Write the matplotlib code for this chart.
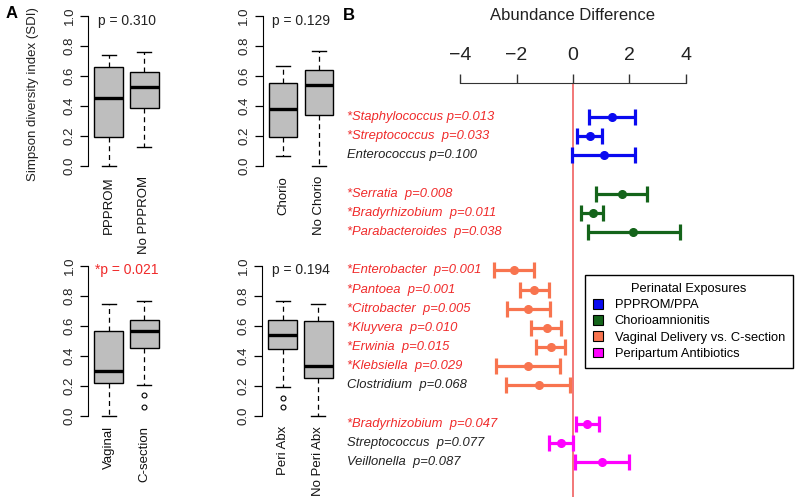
import matplotlib
matplotlib.use('Agg')
import matplotlib.pyplot as plt
from matplotlib.patches import Patch

plt.rcParams['font.family'] = ['Liberation Sans', 'DejaVu Sans']

# ---- panel A: Simpson diversity boxplots ----
box_names = [['PPPROM', 'No PPPROM'], ['Chorio', 'No Chorio'],
             ['Vaginal', 'C-section'], ['Peri Abx', 'No Peri Abx']]
box_pvals = ['p = 0.310', 'p = 0.129', '*p = 0.021', 'p = 0.194']
box_whislo = [[0.0, 0.129], [0.067, 0.0], [0.0, 0.204], [0.189, 0.0]]
box_q1 = [[0.196, 0.384], [0.191, 0.342], [0.216, 0.453], [0.444, 0.251]]
box_med = [[0.451, 0.524], [0.378, 0.542], [0.298, 0.564], [0.538, 0.329]]
box_q3 = [[0.662, 0.624], [0.556, 0.642], [0.564, 0.640], [0.636, 0.629]]
box_whishi = [[0.740, 0.762], [0.667, 0.767], [0.744, 0.767], [0.767, 0.744]]
box_fliers = [[[], []], [[], []], [[], [0.138, 0.058]], [[0.117, 0.060], []]]

# ---- panel B: abundance differences ----
groups = ['PPPROM/PPA', 'Chorioamnionitis', 'Vaginal Delivery vs. C-section',
          'Peripartum Antibiotics']
group_colors = ['#0a0af0', '#14641a', '#f8744f', '#ff00ff']
taxa = ['*Staphylococcus p=0.013', '*Streptococcus  p=0.033', 'Enterococcus p=0.100',
        '*Serratia  p=0.008', '*Bradyrhizobium  p=0.011', '*Parabacteroides  p=0.038',
        '*Enterobacter  p=0.001', '*Pantoea  p=0.001', '*Citrobacter  p=0.005',
        '*Kluyvera  p=0.010', '*Erwinia  p=0.015', '*Klebsiella  p=0.029',
        'Clostridium  p=0.068',
        '*Bradyrhizobium  p=0.047', 'Streptococcus  p=0.077', 'Veillonella  p=0.087']
taxon_group = [0, 0, 0, 1, 1, 1, 2, 2, 2, 2, 2, 2, 2, 3, 3, 3]
diff_mean = [1.39, 0.60, 1.10, 1.73, 0.70, 2.14, -2.09, -1.37, -1.58, -0.93, -0.79,
             -1.58, -1.22, 0.51, -0.44, 1.04]
diff_lo = [0.58, 0.15, -0.02, 0.82, 0.30, 0.52, -2.79, -1.88, -2.35, -1.50, -1.31,
           -2.74, -2.38, 0.12, -0.86, 0.06]
diff_hi = [2.19, 1.02, 2.20, 2.64, 1.08, 3.79, -1.39, -0.85, -0.82, -0.44, -0.28,
           -0.46, -0.11, 0.91, -0.01, 2.00]

W, H = 800, 503
fig = plt.figure(figsize=(W / 100, H / 100), dpi=100)


def px_axes(x0, y0, x1, y1):
    return fig.add_axes([x0 / W, 1 - y1 / H, (x1 - x0) / W, (y1 - y0) / H])


red = '#f02a2a'
rects = [(88, 10, 165, 172), (262.5, 10, 339.5, 172),
         (88, 259.7, 165, 421.7), (262, 259.7, 339, 421.7)]

for i, r in enumerate(rects):
    ax = px_axes(*r)
    stats = []
    for j in range(2):
        stats.append(dict(med=box_med[i][j], q1=box_q1[i][j], q3=box_q3[i][j],
                          whislo=box_whislo[i][j], whishi=box_whishi[i][j],
                          fliers=box_fliers[i][j]))
    ax.bxp(stats, positions=[1, 2], widths=0.8, patch_artist=True, capwidths=0.4,
           boxprops=dict(facecolor='#bebebe', edgecolor='black', lw=1),
           medianprops=dict(color='black', lw=2.4, solid_capstyle='butt'),
           whiskerprops=dict(color='black', ls=(0, (4, 3)), lw=0.9),
           capprops=dict(color='black', lw=1),
           flierprops=dict(marker='o', mfc='none', mec='black', ms=3.5, mew=0.8))
    ax.set_xlim(0.42, 2.58)
    ax.set_ylim(-0.04, 1.04)
    for s in ['top', 'right', 'bottom']:
        ax.spines[s].set_visible(False)
    ax.spines['left'].set_bounds(0, 1)
    ax.set_yticks([0, 0.2, 0.4, 0.6, 0.8, 1.0])
    ax.set_yticklabels(['0.0', '0.2', '0.4', '0.6', '0.8', '1.0'],
                       rotation=90, va='center')
    ax.tick_params(axis='y', length=5.8, width=0.9, pad=3, labelsize=9.5,
                   labelcolor='#222222')
    ax.set_xticks([1, 2])
    ax.set_xticklabels(box_names[i], rotation=90, va='top', ha='center')
    ax.tick_params(axis='x', length=0, pad=3, labelsize=9.5, labelcolor='#111111')
    p = box_pvals[i]
    ax.text(1.5, 0.97, p, ha='center', va='center', fontsize=10,
            color=red if p.startswith('*') else '#222222')

fig.text(33 / W, 1 - 94 / H, 'Simpson diversity index (SDI)', rotation=90,
         ha='center', va='center', fontsize=9.5, color='#222222')
fig.text(12 / W, 1 - 13 / H, 'A', fontweight='bold', fontsize=12,
         ha='center', va='center')
fig.text(349 / W, 1 - 15 / H, 'B', fontweight='bold', fontsize=12,
         ha='center', va='center')

# ---- panel B axes ----
axb = px_axes(340, 83, 800, 497)
ypos = []
row = 0
prev = taxon_group[0]
for g in taxon_group:
    if g != prev:
        row += 1
        prev = g
    ypos.append(row)
    row += 1

axb.axvline(0, color='#f06060', lw=1.2, zorder=1)
for k in range(len(taxa)):
    c = group_colors[taxon_group[k]]
    axb.errorbar(diff_mean[k], ypos[k],
                 xerr=[[diff_mean[k] - diff_lo[k]], [diff_hi[k] - diff_mean[k]]],
                 fmt='o', color=c, ms=5.5, elinewidth=2.3, capsize=5.8, capthick=2.3,
                 zorder=3)
    axb.text(0.015, ypos[k], taxa[k], transform=axb.get_yaxis_transform(),
             ha='left', va='center', style='italic', fontsize=9.4,
             color=red if taxa[k].startswith('*') else '#222222')

axb.set_xlim(-8.26, 8.05)
axb.set_ylim(19.82, -1.77)
for s in ['left', 'right', 'bottom']:
    axb.spines[s].set_visible(False)
axb.spines['top'].set_bounds(-4, 4)
axb.spines['top'].set_color('#333333')
axb.xaxis.tick_top()
axb.set_xticks([-4, -2, 0, 2, 4])
axb.tick_params(axis='x', length=6.5, width=1, pad=7, labelsize=14,
                labelcolor='#222222', color='#333333')
axb.set_yticks([])
axb.text(0, 1.164, 'Abundance Difference', transform=axb.get_xaxis_transform(),
         ha='center', va='center', fontsize=12, color='#222222')

handles = [Patch(facecolor=c, edgecolor='black', lw=0.8) for c in group_colors]
leg = fig.legend(handles, groups, title='Perinatal Exposures', loc='upper left',
                 bbox_to_anchor=(585 / W, 1 - 275 / H), fontsize=9.3,
                 title_fontsize=9.3, fancybox=False, edgecolor='black',
                 framealpha=1, handlelength=0.8, handleheight=0.8,
                 handletextpad=0.9, labelspacing=0.3, borderpad=0.6,
                 borderaxespad=0)
leg.get_frame().set_linewidth(1)

fig.savefig('out.png', dpi=100)
